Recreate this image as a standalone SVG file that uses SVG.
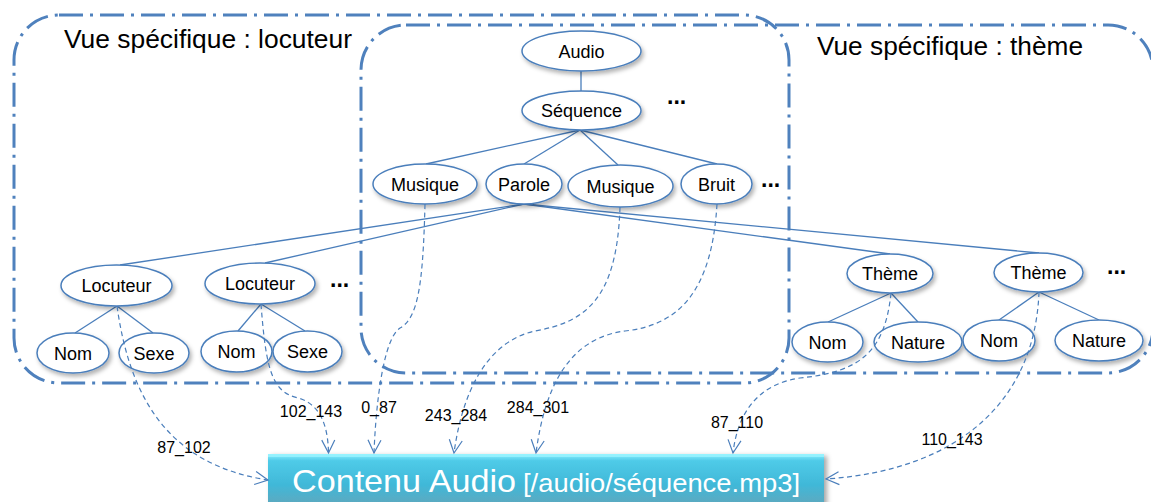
<svg xmlns="http://www.w3.org/2000/svg" width="1151" height="502" viewBox="0 0 1151 502">
<style>
.region{fill:none;stroke:#4f81bd;stroke-width:3;stroke-dasharray:24 7 3 7}
.edge{stroke:#4a7ebb;stroke-width:1.3;fill:none}
.node ellipse{fill:#fff;stroke:#4a7ebb;stroke-width:1.5;filter:url(#sh)}
.node text,.lbl{font-family:"Liberation Sans",Arial,sans-serif;fill:#000;text-anchor:middle}
.node text{font-size:18px}
.lbl{font-size:16px}
.dots{font-family:"Liberation Sans",Arial,sans-serif;font-size:23px;font-weight:bold;fill:#000}
.title{font-family:"Liberation Sans",Arial,sans-serif;font-size:25px;fill:#000}
.conn{fill:none;stroke:#4a7ebb;stroke-width:1.2;stroke-dasharray:5 3.5;marker-end:url(#arr)}
</style>
<defs>
<filter id="sh" x="-20%" y="-20%" width="150%" height="160%">
<feDropShadow dx="2" dy="3" stdDeviation="2" flood-color="#000" flood-opacity="0.3"/>
</filter>
<filter id="bsh" x="-5%" y="-20%" width="115%" height="150%">
<feDropShadow dx="3" dy="2" stdDeviation="2.5" flood-color="#000" flood-opacity="0.35"/>
</filter>
<marker id="arr" viewBox="-15 -9 17 18" markerWidth="17" markerHeight="18" refX="0" refY="0" orient="auto" markerUnits="userSpaceOnUse">
<path d="M-13,-6.5 L0,0 L-13,6.5" fill="none" stroke="#4a7ebb" stroke-width="1.2"/>
</marker>
<linearGradient id="bg" x1="0" y1="0" x2="0" y2="1">
<stop offset="0" stop-color="#8ef0ff"/>
<stop offset="0.12" stop-color="#4fcbe8"/>
<stop offset="0.55" stop-color="#40b8d8"/>
<stop offset="1" stop-color="#66a4b8"/>
</linearGradient>
</defs>

<g id="regions">
<rect id="region-locuteur" class="region" x="14" y="15" width="775" height="368" rx="45" ry="45"/>
<rect id="region-theme" class="region" x="361" y="25" width="792" height="348" rx="45" ry="45"/>
<text class="title" x="64" y="48" textLength="288" lengthAdjust="spacingAndGlyphs">Vue spécifique : locuteur</text>
<text class="title" x="817" y="55" textLength="266" lengthAdjust="spacingAndGlyphs">Vue spécifique : thème</text>
</g>

<g id="edges">
<line class="edge" x1="581" y1="71" x2="581" y2="91"/>
<line class="edge" x1="580" y1="130" x2="426" y2="164"/>
<line class="edge" x1="580" y1="130" x2="524" y2="164"/>
<line class="edge" x1="580" y1="130" x2="618" y2="165"/>
<line class="edge" x1="580" y1="130" x2="717" y2="164"/>
<line class="edge" x1="524" y1="204" x2="120" y2="265"/>
<line class="edge" x1="524" y1="204" x2="265" y2="263"/>
<line class="edge" x1="524" y1="204" x2="890" y2="254"/>
<line class="edge" x1="524" y1="204" x2="1039" y2="253"/>
<line class="edge" x1="117" y1="306" x2="75" y2="333"/>
<line class="edge" x1="117" y1="306" x2="153" y2="333"/>
<line class="edge" x1="261" y1="304" x2="238" y2="331"/>
<line class="edge" x1="261" y1="304" x2="305" y2="331"/>
<line class="edge" x1="891" y1="293" x2="828" y2="322"/>
<line class="edge" x1="891" y1="293" x2="918" y2="322"/>
<line class="edge" x1="1039" y1="292" x2="999" y2="320"/>
<line class="edge" x1="1039" y1="292" x2="1099" y2="320"/>
</g>

<g id="n-audio" class="node"><ellipse cx="581.5" cy="51" rx="59.5" ry="20"/><text x="581.5" y="57.5">Audio</text></g>
<g id="n-sequence" class="node"><ellipse cx="581.5" cy="110.5" rx="59.5" ry="19.5"/><text x="581.5" y="117">Séquence</text></g>
<g id="n-musique1" class="node"><ellipse cx="425" cy="184" rx="52" ry="20"/><text x="425" y="190.5">Musique</text></g>
<g id="n-parole" class="node"><ellipse cx="524" cy="184" rx="38" ry="20"/><text x="524" y="190.5">Parole</text></g>
<g id="n-musique2" class="node"><ellipse cx="620.5" cy="186" rx="52.5" ry="21"/><text x="620.5" y="192.5">Musique</text></g>
<g id="n-bruit" class="node"><ellipse cx="716.5" cy="184" rx="35.5" ry="20"/><text x="716.5" y="190.5">Bruit</text></g>
<g id="n-locuteur1" class="node"><ellipse cx="116.5" cy="285.5" rx="55.5" ry="20.5"/><text x="116.5" y="292">Locuteur</text></g>
<g id="n-locuteur2" class="node"><ellipse cx="260" cy="283.5" rx="55" ry="20.5"/><text x="260" y="290">Locuteur</text></g>
<g id="n-nom1" class="node"><ellipse cx="73" cy="353" rx="36" ry="20"/><text x="73" y="359.5">Nom</text></g>
<g id="n-sexe1" class="node"><ellipse cx="154" cy="353" rx="35" ry="20"/><text x="154" y="359.5">Sexe</text></g>
<g id="n-nom2" class="node"><ellipse cx="236.5" cy="351.5" rx="35.5" ry="20.5"/><text x="236.5" y="358">Nom</text></g>
<g id="n-sexe2" class="node"><ellipse cx="307.5" cy="351.5" rx="34.5" ry="20.5"/><text x="307.5" y="358">Sexe</text></g>
<g id="n-theme1" class="node"><ellipse cx="890" cy="273.5" rx="43" ry="19.5"/><text x="890" y="280">Thème</text></g>
<g id="n-theme2" class="node"><ellipse cx="1038.5" cy="272.5" rx="44.5" ry="19.5"/><text x="1038.5" y="279">Thème</text></g>
<g id="n-nom3" class="node"><ellipse cx="827.5" cy="342" rx="35.5" ry="20"/><text x="827.5" y="348.5">Nom</text></g>
<g id="n-nature1" class="node"><ellipse cx="918" cy="342" rx="44" ry="20"/><text x="918" y="348.5">Nature</text></g>
<g id="n-nom4" class="node"><ellipse cx="999" cy="340.5" rx="36" ry="20.5"/><text x="999" y="347">Nom</text></g>
<g id="n-nature2" class="node"><ellipse cx="1099" cy="340.5" rx="44" ry="20.5"/><text x="1099" y="347">Nature</text></g>

<g id="ellipsis">
<text class="dots" x="667" y="104">...</text>
<text class="dots" x="761" y="187">...</text>
<text class="dots" x="330" y="287">...</text>
<text class="dots" x="1107" y="274">...</text>
</g>

<g id="n-contenu">
<rect x="268" y="454" width="556" height="56" fill="url(#bg)" filter="url(#bsh)"/>
<rect x="268" y="454" width="556" height="3" fill="#9af4ff" opacity="0.8"/>
<text x="292" y="492" font-family="'Liberation Sans',Arial,sans-serif" font-size="32" fill="#fff" textLength="224" lengthAdjust="spacingAndGlyphs">Contenu Audio</text>
<text x="523" y="492" font-family="'Liberation Sans',Arial,sans-serif" font-size="25" fill="#fff" textLength="277" lengthAdjust="spacingAndGlyphs">[/audio/séquence.mp3]</text>
</g>

<g id="connectors">
<path class="conn" d="M117,306 C130,400 170,465 268,480"/>
<path class="conn" d="M261,304 C266,370 272,392 298,398 C320,404 328,425 328.5,453"/>
<path class="conn" d="M425,204 C423,285 418,318 400,328 C384,338 376,400 374,453"/>
<path class="conn" d="M620,207 C617,300 585,322 535,331 C485,342 462,395 454,453"/>
<path class="conn" d="M717,204 C712,290 680,325 625,331 C570,338 545,385 536,453"/>
<path class="conn" d="M891,293 C885,352 860,372 800,378 C760,384 738,410 733,453"/>
<path class="conn" d="M1039,292 C1035,400 960,470 826,479"/>
</g>

<g id="labels">
<text class="lbl" x="184" y="453">87_102</text>
<text class="lbl" x="311" y="417">102_143</text>
<text class="lbl" x="379" y="413">0_87</text>
<text class="lbl" x="456" y="421">243_284</text>
<text class="lbl" x="538" y="413">284_301</text>
<text class="lbl" x="737" y="428">87_110</text>
<text class="lbl" x="952" y="445">110_143</text>
</g>
</svg>
